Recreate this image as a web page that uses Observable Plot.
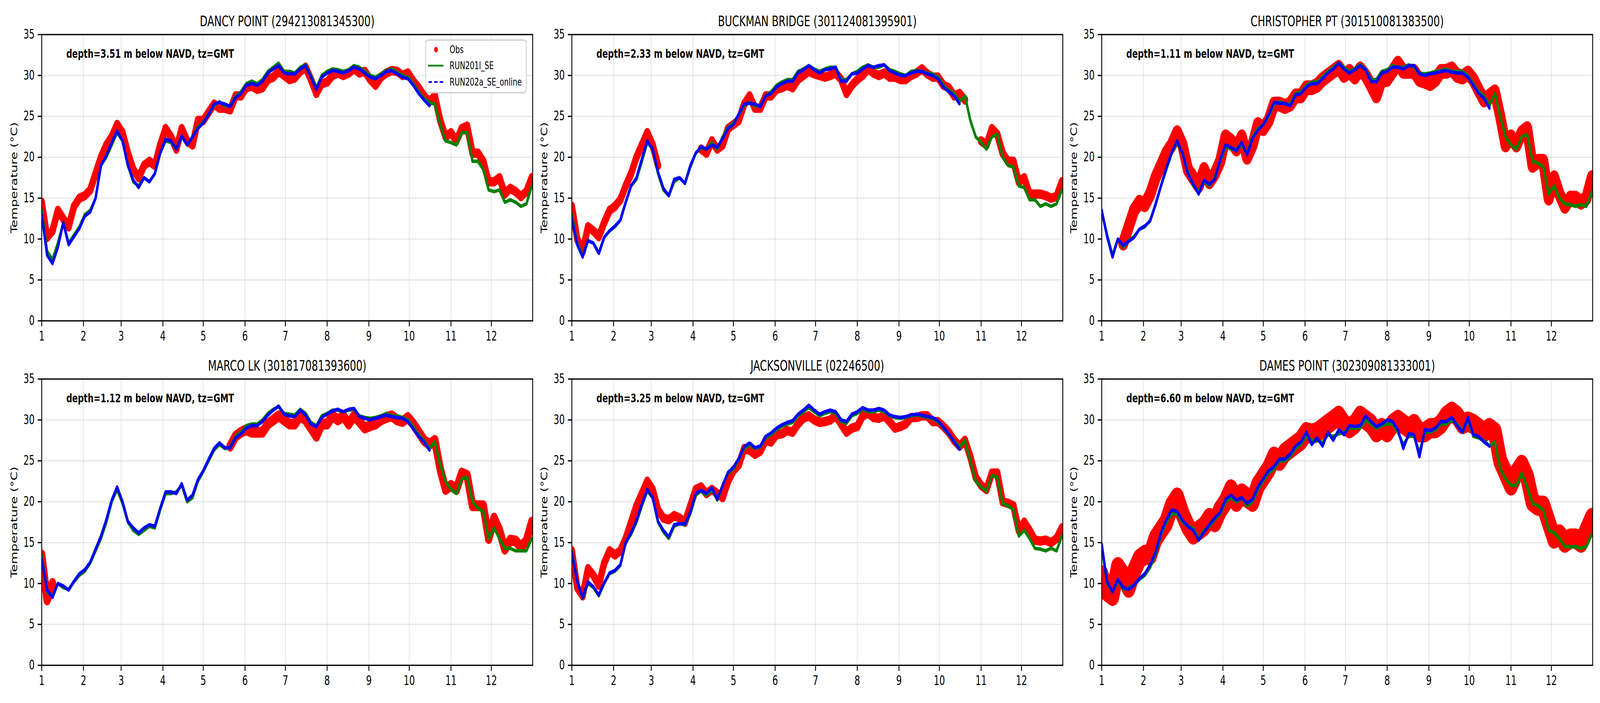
<!DOCTYPE html>
<html>
<head>
<meta charset="utf-8">
<script src="https://cdn.jsdelivr.net/npm/d3@7"></script>
<script src="https://cdn.jsdelivr.net/npm/@observablehq/plot@0.6"></script>
<style>
  html, body { margin: 0; padding: 0; background: white; overflow: hidden; }
  #stage { position: absolute; left: 0; top: 0; width: 6000px; height: 1800px; background: white; font-family: "DejaVu Sans", sans-serif; transform-origin: 0 0; }
  .cell { position: absolute; }
</style>
</head>
<body>
<div id="stage"></div>
<script>
// ---------------- data ----------------
const dayOfYear = [0,4,8,12,16,20,24,28, 32,36,40,44,48,52,56,60, 64,68,72,76,80,84,88,92,
  96,100,104,108,112,116,120,124, 128,132,136,140,144,148,152,156, 160,164,168,172,176,180,184,188,
  192,196,200,204,208,212,216,220, 224,228,232,236,240,244,248,252, 256,260,264,268,272,276,280,284,
  288,292,296,300,304,308,312,316, 320,324,328,332,336,340,344,348, 352,356,360,364];

const monthLabels = ["1","2","3","4","5","6","7","8","9","10","11","12"];
const yTicks = [0, 5, 10, 15, 20, 25, 30, 35];
const legendLabels = ["Obs", "RUN201l_SE", "RUN202a_SE_online"];

const stationTitles = [
  "DANCY POINT (294213081345300)",
  "BUCKMAN BRIDGE (301124081395901)",
  "CHRISTOPHER PT (301510081383500)",
  "MARCO LK (301817081393600)",
  "JACKSONVILLE (02246500)",
  "DAMES POINT (302309081333001)"
];
const stationNotes = [
  "depth=3.51 m below NAVD, tz=GMT",
  "depth=2.33 m below NAVD, tz=GMT",
  "depth=1.11 m below NAVD, tz=GMT",
  "depth=1.12 m below NAVD, tz=GMT",
  "depth=3.25 m below NAVD, tz=GMT",
  "depth=6.60 m below NAVD, tz=GMT"
];

// DANCY POINT
const dancyObs = [14.5,10.2,11,13.5,12.5,11.5,14,15, 15.3,16,18,20,21.5,22.5,24,23,
  20.5,18.5,17.5,19,19.5,19,21.5,23.5, 22.5,21,23.5,22,21.5,24.5,24.5,25.5,
  26.5,26,26,25.8,27.5,27.5,28.5,28.7, 28.3,28.5,29.5,29.8,30.5,30,29.5,29.7,
  30.5,31,29.5,27.8,29,29.2,30,30.3, 30,30.3,30.8,30.3,30.5,29.5,28.8,29.8,
  30.3,30.6,30.5,30,30.3,29.3,28.5,27.5, 26.8,27.5,24.5,22.5,23,22,23.5,23.8,
  20.5,20.5,19.5,17,17,17.5,15.5,16.2, 15.8,15.2,15.8,17.5];
const dancyR201 = [13.5,8.5,7.5,9.5,12,9.5,10.5,11.5, 13,13.5,15,19,20,21.5,23,22,
  19,17,16.5,17.5,17,18,20.5,22, 21.8,21,22.5,21.5,22.5,23.7,24.3,25.3,
  26.3,26.8,26.3,26.3,27.5,28,29,29.3, 29,29.5,30.5,31,31.5,30.5,30.5,30.3,
  31,31.3,30,28.5,30,30.5,30.8,30.7, 30.5,30.7,31.2,31,30.5,30,29.8,30.2,
  30.6,30.8,30.4,30,29.8,29,28,27.2, 26.7,26.5,24,22,21.8,21.5,23,23,
  19.5,19.5,18.5,16,15.8,16,14.5,14.8, 14.5,14,14.3,16.5];
const dancyR202 = [13,8,7,9,12,9.3,10.3,11.3, 12.8,13.3,15,19,20.2,21.8,23.2,22,
  19,17.2,16.3,17.5,17,18,20.5,22.2, 22,21,22.6,21.5,22.5,23.5,24.2,25.2,
  26.5,26.7,26.5,26.2,27.3,27.8,28.8,29, 28.8,29.3,30.3,30.8,31.2,30.3,30.2,30.2,
  30.8,31.2,29.8,28.3,29.8,30.3,30.6,30.5, 30.3,30.6,31,30.8,30.3,29.8,29.6,30,
  30.5,30.6,30.2,29.8,29.6,28.8,27.8,27, 26.3,null,null,null,null,null,null,null,
  null,null,null,null,null,null,null,null, null,null,null,null];

// BUCKMAN BRIDGE
const buckmanObs = [14,10,8.5,11.5,11,10.3,12,13.5, 14,14.8,16.5,18,20,21.5,23,21.5,
  19,null,null,null,null,null,null,null, 21,20.5,22,21,21.5,23.5,24,24.5,
  26.5,27.5,26,26,27.5,27.5,28.3,28.5, 28.8,28.5,29.5,30,30.5,30.2,30,29.8,
  30,30.3,29.5,27.8,28.8,29.5,30,30.8, 30.3,30,30.3,29.8,29.8,29.5,29.5,30,
  30.3,30.8,30.2,29.8,29.8,28.8,28.5,27.5, 27.8,27,null,null,22,21.5,23.5,22.8,
  20.5,19.5,19.5,17,17.5,15.5,15.5,15.5, 15.3,15,15.2,17];
const buckmanR201 = [13,9.5,8,9.8,9.5,8.3,10.2,11, 11.5,12.3,14.5,16.5,17.3,19.5,21.8,21,
  18,16,15.3,17,17.5,16.8,18.8,20.5, 21.2,21,21.8,21,22.5,23.7,24.2,25.2,
  26.3,26.7,26.3,26.3,27.5,28,28.8,29.2, 29.5,29.5,30.5,30.8,31.2,30.8,30.5,30.8,
  31,31,29.5,29.5,30.2,30.5,31,31.3, 31,31,31.3,30.7,30.5,30.2,30,30.5,
  30.6,30.5,30.3,30.2,29.8,28.8,28.2,27.8, 26.8,27.5,24.5,22.5,21.8,21,22.5,22.8,
  20,19,18.8,16.5,16.3,14.8,14.8,14, 14.3,14,14.3,16];
const buckmanR202 = [12.5,9.3,7.8,9.8,9.5,8.2,10.2,11, 11.6,12.3,14.5,16.5,17.5,19.8,22,21,
  18.2,16.2,15.3,17.3,17.5,16.8,19,20.5, 21.3,21,21.5,21.2,22.3,23.5,24,25.3,
  26.5,26.6,26.5,26.2,27.5,27.8,28.6,29, 29.3,29.3,30.3,30.7,31.2,30.7,30.3,30.7,
  30.8,31,29.3,29.3,30.2,30.3,30.8,31.2, 31,31.2,31.3,30.6,30.3,30,30,30.3,
  30.5,30.5,30.2,30,29.6,28.6,28,27.5, 26.5,null,null,null,null,null,null,null,
  null,null,null,null,null,null,null,null, null,null,null,null];

// CHRISTOPHER PT
const christopherObs = [null,null,null,null,9.5,11.5,13.5,14.5, 14.2,15.5,17.5,19,20.5,21.5,23,21.5,
  18.5,17.5,16.5,18.5,17,18,19.5,22.5, 22,21,22.5,20,21.5,24,23.5,24.5,
  26.5,26.5,26.2,26.5,27.5,27.5,28.5,28.5, 28.8,29.5,30,30.5,31,30,30.5,29.8,
  30.8,30,28.8,27.5,29.5,29.5,30.5,31.5, 30.5,30.5,30.5,29.5,29.3,29,29.5,30.5,
  30.5,30.8,30,29.8,30.3,29.5,28.2,27, 27.5,28,25,21.5,22.5,21.5,23,23.5,
  19,19.5,19.5,15,17.5,15.5,14,15, 15,14.5,15,17.5];
const christopherR201 = [13.3,10.5,8,10,9,9.8,10.3,11.2, 11.5,12.3,14.2,16.5,18.5,20.5,21.8,20.5,
  18.2,16.5,15.8,17,16.5,17.5,19.5,21.3, 21,21,21.5,20.5,22.5,23.5,24,25,
  26.5,26.8,26.5,26.5,27.8,28,28.8,29.2, 29.2,29.8,30.5,31,31.5,31,30.5,30.8,
  31.3,30.8,29.5,29.5,30.5,30.7,31.2,31, 31,31.3,31,30.3,30.2,30.3,30.5,30.6,
  30.8,30.5,30.5,30.5,30,29,28,27.5, 26.3,27.8,25,22.5,21.5,21,22.5,22.8,
  19.5,19.3,18.8,15.5,16.5,15,14.3,14.2, 14,14.2,14,15.8];
const christopherR202 = [13.5,10.3,7.8,10,9.2,9.7,10.2,11.2, 11.6,12.2,14.3,16.5,18.7,20.6,22,20.5,
  18,16.7,15.5,17.2,16.7,17.3,19.7,21.5, 21.2,20.8,21.8,20.3,22.3,23.3,24,25.2,
  26.7,26.6,26.6,26.3,27.6,27.8,28.6,29, 29,29.6,30.3,30.8,31.5,30.8,30.3,30.7,
  31.2,30.7,29.3,29.2,30.3,30.5,31,31, 30.8,31.2,31.2,30.2,30,30.2,30.3,30.5,
  30.6,30.4,30.3,30.3,29.8,28.8,27.8,27.2, 26,null,null,null,null,null,null,null,
  null,null,null,null,null,null,null,null, null,null,null,null];

// MARCO LK
const marcoObs = [13.5,8,10,null,null,null,null,null, null,null,null,null,null,null,null,null,
  null,null,null,null,null,null,null,null, null,null,null,null,null,null,null,null,
  null,null,null,26.8,28,28.5,28.8,28.5, 28.5,28.5,29.5,30,30.5,30,29.5,29.5,
  30.5,30,29,28,29.5,29.5,30.5,30, 30.5,29.5,30.5,29.8,29,29.3,29.5,30,
  30.3,30.5,30,29.8,30.3,29.5,28.5,27.5, 27,27.5,24,21.5,22,21.5,23.5,23.2,
  19.5,19.5,19.5,15.5,18,16.5,14.2,15.3, 15.2,14.5,15.2,17.5];
const marcoR201 = [13.5,9,8.5,10,9.5,9.3,10.2,11, 11.5,12.5,14,15.5,17.5,20,21.5,19.8,
  17.5,16.5,16,16.5,17,16.8,19,21, 21,21.2,22,20,20.5,22.5,23.7,25,
  26.3,27,26.5,26.7,28,28.5,29.3,29.5, 29.5,30,30.8,31.3,31.6,30.8,30.7,30.6,
  31.3,30.8,29.7,29.3,30.5,30.8,31.2,31.2, 31,31.2,31.3,30.5,30.3,30.2,30.3,30.5,
  30.8,30.5,30.5,30.3,30,29.2,28.2,27.5, 26.5,27.3,24.5,22.5,21.5,21,22.8,23,
  20,19.2,18.8,15.5,16.8,15.5,14.3,14.3, 14,14,14,15.5];
const marcoR202 = [13,9.2,8.3,10,9.7,9.2,10.3,11.2, 11.7,12.6,14.2,15.8,17.8,20.2,21.8,20,
  17.6,16.8,16.2,16.8,17.2,17,19.2,21.2, 21.2,21,22.2,20.2,20.8,22.7,23.8,25.2,
  26.5,27.2,26.6,26.6,27.8,28.3,29,29.3, 29.3,29.8,30.6,31.2,31.7,30.7,30.5,30.4,
  31.2,30.6,29.5,29.2,30.3,30.7,31.1,31.3, 31,31.3,31.4,30.4,30.2,30,30.2,30.4,
  30.6,30.4,30.3,30.2,29.8,28.9,28,27.3, 26.3,null,null,null,null,null,null,null,
  null,null,null,null,null,null,null,null, null,null,null,null];

// JACKSONVILLE
const jaxObs = [14,9.5,8.5,11.8,11,9.8,12.5,14, 13.5,14,15.5,17.5,19.5,21,22.5,21.5,
  19,18,17.8,18.3,18,17.5,19.5,21.5, 21.8,21,21.5,21,20.5,22.5,23.8,24.5,
  26.5,26.3,25.8,26.2,27.5,27.3,28.2,28.3, 28.7,28.5,29.5,30.2,30.5,30,29.7,29.8,
  30,30.5,29.5,28.5,29,29.2,30.5,30.8, 30.3,30.2,30.5,29.8,29,29.2,29.5,30.3,
  30.3,30.5,30.5,29.8,29.8,29.2,28.5,27.5, 26.8,27.5,25.5,23,22,21.5,23.5,23.5,
  20,19.8,19.5,16.5,17.5,16.5,15.3,15.2, 15.3,15,15.5,16.8];
const jaxR201 = [14,10.3,8.2,10,9.5,8.5,10,11.2, 11.5,12.2,15,16,17.5,19.5,21.3,20.5,
  17.5,16.3,15.5,17,17.3,17.2,18.5,20.8, 21.3,20.8,21.5,20.2,22,23.5,24,25.2,
  26.5,27,26.5,26.7,27.8,28.2,28.8,29.2, 29.5,29.7,30.5,31,31.5,31,30.5,30.8,
  31,30.8,29.8,29.6,30.5,30.8,31.3,31, 31,31.2,31,30.5,30.3,30.2,30.3,30.5,
  30.6,30.5,30.3,30.2,29.8,29,28.2,27.4, 26.7,27.5,25,22.5,21.8,21.3,23.2,23,
  19.8,19.5,19,15.8,16.5,15.5,14.3,14.2, 14,14.3,14,15.8];
const jaxR202 = [13.8,10.2,8.3,10.2,9.6,8.6,10.1,11.3, 11.6,12.3,15,16.2,17.7,19.7,21.5,20.5,
  17.6,16.5,15.7,17.2,17.3,17.3,18.7,21, 21.4,21,21.7,20.3,22,23.6,24.2,25.3,
  26.7,27.2,26.6,26.8,28,28.4,29,29.4, 29.7,29.9,30.7,31.2,31.8,31.2,30.7,31,
  31.2,31,30,29.8,30.7,31,31.5,31.2, 31.2,31.4,31.2,30.6,30.4,30.3,30.4,30.6,
  30.7,30.6,30.4,30.3,29.9,29.1,28.3,27.3, 26.4,null,null,null,null,null,null,null,
  null,null,null,null,null,null,null,null, null,null,null,null];

// DAMES POINT
const damesObs = [11,9,8.5,12,11,9.5,11.5,13, 13.5,13.5,15.5,16.5,17.5,19.5,20.5,18.5,
  17,16,16.5,17,18,17.5,19,20, 21.5,20,21,20.5,20,22,23,24,
  25.5,25,26,26.5,27,27.5,28.5,28.3, 28.5,29,29.5,30,30.5,29.5,29,29.5,
  30.5,30,29.5,28.5,29,28.5,29.5,30, 29.5,29,29.5,28.5,28.5,29,29,29.5,
  30.5,31,30.5,29.5,29.8,29.5,29,28.5, 29,28.5,25,23.5,22,23.5,24.5,23,
  20,19.5,19.5,17.5,15.5,16,15,15.5, 15.5,15,16.5,18];
const damesR201 = [14.5,10,9,10.3,9.3,9.5,9.8,10.5, 11,12,13.5,16,17.5,18.5,18.5,17.5,
  17,16.8,15.5,16.5,17,17.8,18.5,20, 20.5,20,20.5,19.5,20,21.5,22.5,23.5,
  24,25,25,25.5,26.5,27,28,27.5, 27.5,27.2,28.2,28,28.3,28.5,29,29,
  29,30,29.5,29,29.3,29.5,29.5,28.5, 27,28,28,26,28.5,28.5,28.8,29.5,
  29.5,30,29.5,28.5,30,28,27.8,27.5, 26.8,27.3,24,22.8,22,22,23.5,21.8,
  19.8,19.5,19,16.5,16.2,15.5,14.5,14.5, 14.5,14.3,14.5,16];
const damesR202 = [14.8,10.2,9,10.5,9.5,9.3,9.8,10.6, 11.2,12.3,13.8,16.2,17.8,19,18.8,17.7,
  17,16.5,15.3,16.3,17.2,18,18.7,20.3, 20.8,20.2,20.5,19.8,20.3,21.8,22.8,23.8,
  24.3,25.2,25.2,25.8,26.8,27.3,28.5,27, 27.8,26.8,28.5,27.5,28.8,28.2,29.3,29.2,
  29.3,30.5,29.8,29.2,29.5,30,29.8,28.8, 26.5,28.3,28.2,25.5,28.8,28.7,29,29.8,
  29.8,30.3,29.3,28.5,30.3,28.2,28,27.3, 26.8,null,null,null,null,null,null,null,
  null,null,null,null,null,null,null,null, null,null,null,null];

// ---------------- layout ----------------
const colLeft = [156, 2144, 4131];
const rowTop = [88, 970];
const W = 1841, H = 733;
const ML = 140, MR = 6, MT = 70, MB = 75;

const panels = [
  {obs: dancyObs, r201: dancyR201, r202: dancyR202, col: 0, row: 0, band: 24},
  {obs: buckmanObs, r201: buckmanR201, r202: buckmanR202, col: 1, row: 0, band: 24},
  {obs: christopherObs, r201: christopherR201, r202: christopherR202, col: 2, row: 0, band: 38},
  {obs: marcoObs, r201: marcoR201, r202: marcoR202, col: 0, row: 1, band: 28},
  {obs: jaxObs, r201: jaxR201, r202: jaxR202, col: 1, row: 1, band: 24},
  {obs: damesObs, r201: damesR201, r202: damesR202, col: 2, row: 1, band: 52}
];

const MS = 86400000, T0 = Date.UTC(2021, 0, 1);
const toDate = d => new Date(T0 + d * MS);
const monthTicks = monthLabels.map((m, i) => new Date(Date.UTC(2021, i, 1)));

const stage = document.getElementById("stage");
function fitStage() {
  const sx = (window.innerWidth || 6000) / 6000;
  const sy = (window.innerHeight || 1800) / 1800;
  stage.style.transform = "scale(" + sx + "," + sy + ")";
}
fitStage();
window.addEventListener("resize", fitStage);

const gridStyle = {stroke: "#b0b0b0", strokeOpacity: 0.3, strokeWidth: 3};

panels.forEach((p, k) => {
  const rows = dayOfYear.map((d, j) => ({date: toDate(d), obs: p.obs[j], r201: p.r201[j], r202: p.r202[j]}));
  const chart = Plot.plot({
    width: ML + W + MR,
    height: MT + H + MB,
    marginLeft: ML, marginRight: MR, marginTop: MT, marginBottom: MB,
    style: "max-width:none;background:transparent;overflow:visible;font-family:'DejaVu Sans',sans-serif;color:black;",
    x: {type: "utc", domain: [toDate(0), toDate(364.67)]},
    y: {domain: [0, 35]},
    marks: [
      Plot.gridX(monthTicks, gridStyle),
      Plot.gridY(yTicks, gridStyle),
      Plot.line(rows, {x: "date", y: "obs", stroke: "#ff0000", strokeWidth: p.band, strokeLinejoin: "round", strokeLinecap: "round", clip: true}),
      Plot.dot(rows, {x: "date", y: "obs", r: 12, fill: "#ff0000", stroke: "none", clip: true}),
      Plot.line(rows, {x: "date", y: "r201", stroke: "#008000", strokeWidth: 9, strokeLinejoin: "round", clip: true}),
      Plot.line(rows, {x: "date", y: "r202", stroke: "#0000ff", strokeWidth: 9, strokeDasharray: "26,4", strokeLinejoin: "round", clip: true}),
      Plot.frame({stroke: "black", strokeWidth: 3.3}),
      Plot.axisX(monthTicks, {anchor: "bottom", tickSize: 14.6, tickPadding: 12, fontSize: 33, strokeWidth: 3.3, label: null,
        tickFormat: d => monthLabels[d.getUTCMonth()]}),
      Plot.axisY(yTicks, {anchor: "left", tickSize: 14.6, tickPadding: 12, fontSize: 33, strokeWidth: 3.3, label: null,
        tickFormat: d => String(d)}),
      Plot.text([stationTitles[k]], {text: d => d, frameAnchor: "top", lineAnchor: "middle", dy: -34, fontSize: 37.5, fill: "black"}),
      Plot.text([stationNotes[k]], {text: d => d, frameAnchor: "top-left", textAnchor: "start", lineAnchor: "top", dx: 92, dy: 37,
        fontSize: 31, fontWeight: "bold", fill: "black"}),
      Plot.text(["Temperature (°C)"], {text: d => d, frameAnchor: "left", textAnchor: "middle", lineAnchor: "middle", rotate: -90,
        dx: -103, fontSize: 33, fill: "black"})
    ]
  });
  const cell = document.createElement("div");
  cell.className = "cell";
  cell.style.left = (colLeft[p.col] - ML) + "px";
  cell.style.top = (rowTop[p.row] - MT) + "px";
  cell.appendChild(chart);
  stage.appendChild(cell);
});

// ---------------- legend (first panel, upper right) ----------------
const lg = d3.select(stage).append("svg")
  .attr("width", 382).attr("height", 140)
  .style("position", "absolute").style("left", "1595px").style("top", "101px")
  .style("font-family", "'DejaVu Sans', sans-serif");
lg.append("rect").attr("x", 1.5).attr("y", 1.5).attr("width", 377).attr("height", 135).attr("rx", 10)
  .attr("fill", "white").attr("fill-opacity", 0.8).attr("stroke", "#cccccc").attr("stroke-width", 3);
const rowY = [26, 67, 109];
lg.append("circle").attr("cx", 40).attr("cy", rowY[0]).attr("r", 7).attr("fill", "#ff0000");
lg.append("line").attr("x1", 10).attr("x2", 68).attr("y1", rowY[1]).attr("y2", rowY[1]).attr("stroke", "#008000").attr("stroke-width", 4.5);
lg.append("line").attr("x1", 12).attr("x2", 67).attr("y1", rowY[2]).attr("y2", rowY[2]).attr("stroke", "#0000ff").attr("stroke-width", 4.5)
  .attr("stroke-dasharray", "13,8");
legendLabels.forEach((t, i) => {
  lg.append("text").attr("x", 91).attr("y", rowY[i]).attr("dy", "0.35em").attr("font-size", 27).attr("fill", "black").text(t);
});
</script>
</body>
</html>
